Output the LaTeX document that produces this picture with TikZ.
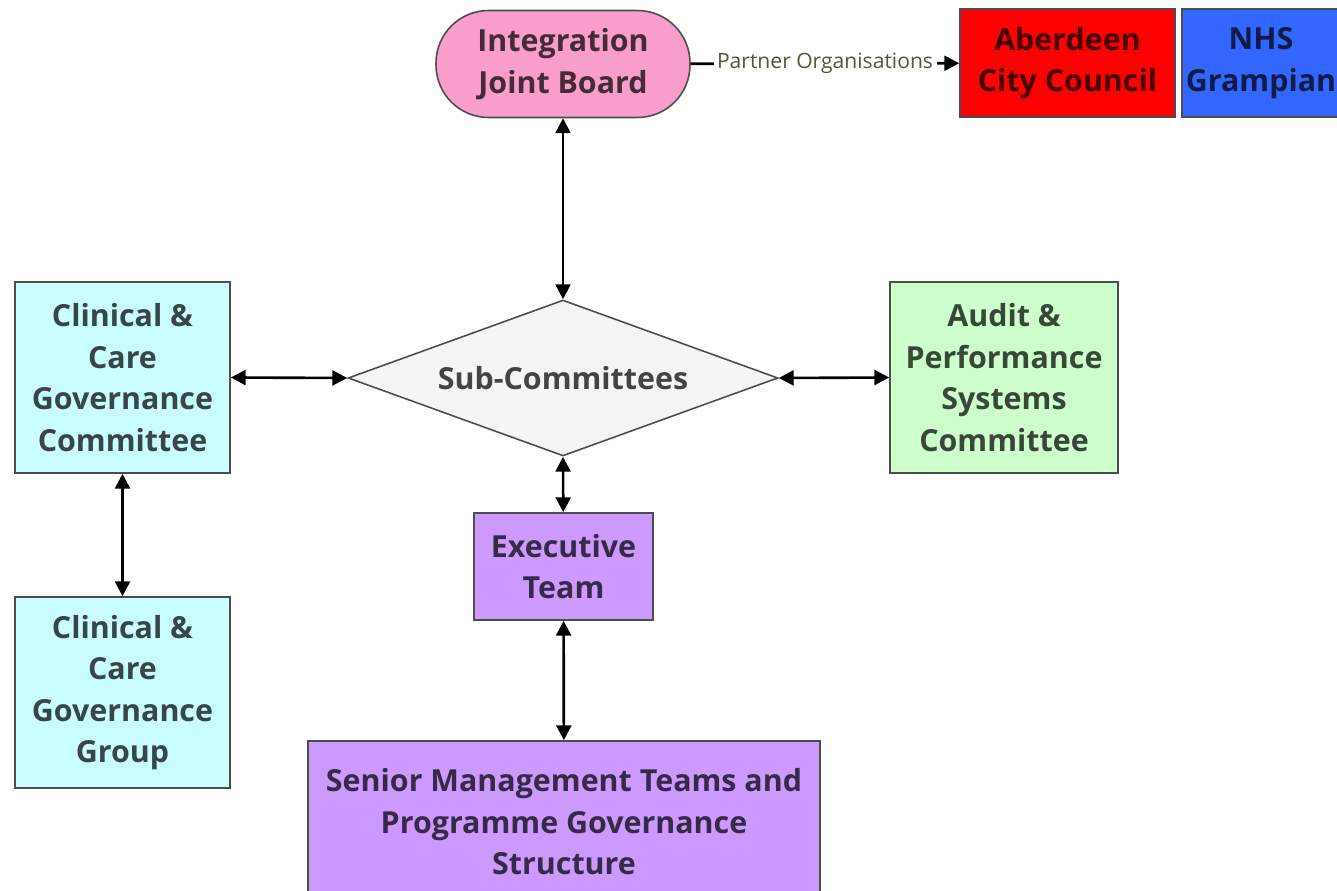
\documentclass[tikz,border=0pt]{standalone}
\usepackage{fontspec}
\setmainfont{Open Sans}
\usetikzlibrary{shapes.geometric,arrows.meta,positioning}
\definecolor{ijbpink}{HTML}{F99DCB}
\definecolor{ccgcyan}{HTML}{C9FDFF}
\definecolor{auditgreen}{HTML}{CCFFCC}
\definecolor{execpurple}{HTML}{CC99FF}
\definecolor{accred}{HTML}{FF0000}
\definecolor{nhsblue}{HTML}{3366FF}
\definecolor{subgrey}{HTML}{F5F5F5}
\definecolor{edgegrey}{HTML}{4D4D4D}
\definecolor{partnertext}{HTML}{55553A}
\tikzstyle{line} = [draw, {Triangle[length=8.5pt,width=8.5pt]}-{Triangle[length=8.5pt,width=8.5pt]}, line width=1.5pt]
\tikzstyle{oneway} = [draw, -{Triangle[length=8.5pt,width=8.5pt]}, line width=1.5pt]

\begin{document}
\begin{tikzpicture}[x=0.02cm, y=-0.02cm,
  box/.style={draw=edgegrey, line width=0.9pt, inner sep=0pt, align=center,
    text=black, text opacity=0.72,
    font=\fontsize{17.3}{23.6}\selectfont\bfseries},
  board/.style={box, rectangle, rounded corners=1.05cm, fill=ijbpink,
    minimum width=5.08cm, minimum height=2.14cm},
  partner/.style={box, minimum width=4.3cm, minimum height=2.16cm},
  committee/.style={box, fill=ccgcyan, minimum width=4.3cm, minimum height=3.82cm},
  hub/.style={box, diamond, aspect=2.76, fill=subgrey,
    minimum width=8.6cm, minimum height=3.12cm}]
  \useasboundingbox (0,0) rectangle (1337,891);
  \clip (0,0) rectangle (1337,891);
  \fill[white] (0,0) rectangle (1337,891);
  %% Board and partners
  \node [board] (IJB) at (563,64) {Integration\\Joint Board};
  \node [partner, fill=accred] (ACC) at (1067.5,63) {Aberdeen\\City Council};
  \node [partner, fill=nhsblue, minimum width=3.16cm] (NHS) at (1261,63) {NHS\\Grampian};
  %% Sub-committees
  \node [hub] (SUB) at (563,378) {Sub-Committees};
  \node [committee] (CCGC) at (122.5,377.5) {Clinical \&\\Care\\Governance\\Committee};
  \node [committee, fill=auditgreen, minimum width=4.56cm] (APSC) at (1004,377.5)
    {Audit \&\\Performance\\Systems\\Committee};
  \node [committee] (CCGG) at (122.5,692.5) {Clinical \&\\Care\\Governance\\Group};
  %% Executive and SMT
  \node [box, fill=execpurple, minimum width=3.58cm, minimum height=2.14cm]
    (EXEC) at (563.5,566.5) {Executive\\Team};
  \node [box, fill=execpurple, minimum width=10.24cm, minimum height=3.24cm]
    (SMT) at (564,822) {Senior Management Teams and\\Programme Governance\\Structure};
  %% Arrows
  \path [oneway] (IJB) to node [fill=white, inner sep=2pt, text=partnertext,
    font=\fontsize{12}{14}\selectfont] {Partner Organisations} (ACC);
  \path [line] (IJB) to (SUB);
  \path [line] (CCGC.east) to (SUB.west);
  \path [line] (SUB.east) to (APSC.west);
  \path [line] (SUB.south) to (EXEC);
  \path [line] (CCGC) to (CCGG);
  \path [line] (EXEC) to (SMT);
\end{tikzpicture}
\end{document}
